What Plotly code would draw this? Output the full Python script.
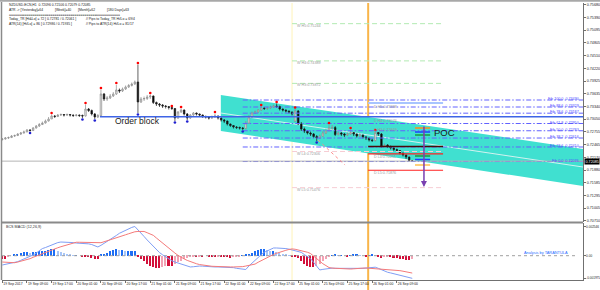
import plotly.graph_objects as go

# ---------------- data ----------------
bar_idx = list(range(134))   # H1 bars, 19 Sep 01:00 ... 26 Sep 14:00 (weekend skipped)

opens = [0.72581, 0.72593, 0.72616, 0.72627, 0.72662, 0.72673, 0.72708, 0.72731, 0.72754, 0.72800,
         0.72788, 0.72846, 0.72892, 0.72926, 0.72961, 0.73007, 0.73053, 0.73122, 0.73110, 0.73145,
         0.73156, 0.73145, 0.73156, 0.73145, 0.73133, 0.73145, 0.73133, 0.73122, 0.73283, 0.73248,
         0.73168, 0.73099, 0.73133, 0.73628, 0.73513, 0.73536, 0.73582, 0.73628, 0.73720, 0.73697,
         0.73743, 0.73789, 0.73823, 0.73858, 0.73904, 0.73444, 0.73513, 0.73524, 0.73559, 0.73582,
         0.73432, 0.73398, 0.73375, 0.73352, 0.73340, 0.73317, 0.73294, 0.73076, 0.73214, 0.73260,
         0.73168, 0.73076, 0.73145, 0.73191, 0.73168, 0.73145, 0.73110, 0.73099, 0.73076, 0.73099,
         0.73122, 0.73076, 0.73030, 0.73007, 0.72938, 0.72903, 0.72869, 0.72857, 0.72846, 0.72834,
         0.72961, 0.73099, 0.73191, 0.73214, 0.73260, 0.73306, 0.73294, 0.73306, 0.73329, 0.73352,
         0.73340, 0.73283, 0.73260, 0.73237, 0.73214, 0.73007, 0.73237, 0.72938, 0.72823, 0.72777,
         0.72731, 0.72708, 0.72650, 0.72616, 0.72662, 0.72731, 0.72777, 0.72846, 0.72857, 0.72696,
         0.72731, 0.72708, 0.72685, 0.72708, 0.72742, 0.72708, 0.72662, 0.72685, 0.72639, 0.72616,
         0.72570, 0.72558, 0.72742, 0.72708, 0.72421, 0.72455, 0.72421, 0.72386, 0.72352, 0.72329,
         0.72271, 0.72225, 0.72179, 0.72096]
highs = [0.72616, 0.72639, 0.72650, 0.72685, 0.72696, 0.72731, 0.72754, 0.72788, 0.72823, 0.72823,
         0.72869, 0.72915, 0.72961, 0.72995, 0.73041, 0.73099, 0.73156, 0.73145, 0.73168, 0.73179,
         0.73168, 0.73179, 0.73168, 0.73156, 0.73168, 0.73156, 0.73156, 0.73386, 0.73306, 0.73271,
         0.73191, 0.73168, 0.73731, 0.73651, 0.73582, 0.73628, 0.73674, 0.73835, 0.73754, 0.73777,
         0.73823, 0.73858, 0.73892, 0.73938, 0.74306, 0.73559, 0.73570, 0.73605, 0.73616, 0.73593,
         0.73455, 0.73421, 0.73398, 0.73375, 0.73352, 0.73329, 0.73306, 0.73237, 0.73294, 0.73271,
         0.73191, 0.73168, 0.73214, 0.73202, 0.73179, 0.73156, 0.73133, 0.73110, 0.73133, 0.73179,
         0.73133, 0.73087, 0.73053, 0.73018, 0.72949, 0.72915, 0.72892, 0.72880, 0.72869, 0.73007,
         0.73145, 0.73225, 0.73248, 0.73283, 0.73340, 0.73329, 0.73340, 0.73363, 0.73386, 0.73409,
         0.73363, 0.73294, 0.73271, 0.73248, 0.73225, 0.73283, 0.73260, 0.72984, 0.72857, 0.72800,
         0.72765, 0.72731, 0.72685, 0.72696, 0.72777, 0.72834, 0.72926, 0.72915, 0.72892, 0.72765,
         0.72754, 0.72731, 0.72742, 0.72811, 0.72754, 0.72719, 0.72731, 0.72696, 0.72662, 0.72627,
         0.72604, 0.72765, 0.72754, 0.72731, 0.72490, 0.72478, 0.72444, 0.72409, 0.72375, 0.72340,
         0.72283, 0.72237, 0.72191, 0.72106]
lows = [0.72558, 0.72581, 0.72593, 0.72616, 0.72639, 0.72662, 0.72685, 0.72719, 0.72754, 0.72765,
        0.72777, 0.72834, 0.72869, 0.72915, 0.72949, 0.72995, 0.73053, 0.73076, 0.73099, 0.73122,
        0.73110, 0.73122, 0.73110, 0.73099, 0.73110, 0.73099, 0.73076, 0.73110, 0.73214, 0.73133,
        0.73053, 0.73076, 0.73110, 0.73467, 0.73467, 0.73513, 0.73559, 0.73605, 0.73651, 0.73674,
        0.73720, 0.73766, 0.73800, 0.73835, 0.73191, 0.73421, 0.73467, 0.73490, 0.73513, 0.73398,
        0.73352, 0.73329, 0.73306, 0.73294, 0.73271, 0.73260, 0.73007, 0.73053, 0.73191, 0.73133,
        0.73030, 0.73053, 0.73122, 0.73133, 0.73110, 0.73076, 0.73064, 0.73041, 0.73053, 0.73076,
        0.73041, 0.72995, 0.72961, 0.72903, 0.72869, 0.72834, 0.72823, 0.72811, 0.72800, 0.72811,
        0.72938, 0.73076, 0.73168, 0.73191, 0.73237, 0.73260, 0.73260, 0.73283, 0.73306, 0.73306,
        0.73248, 0.73225, 0.73202, 0.73179, 0.73133, 0.72984, 0.72915, 0.72777, 0.72731, 0.72696,
        0.72662, 0.72616, 0.72547, 0.72593, 0.72639, 0.72708, 0.72777, 0.72800, 0.72662, 0.72673,
        0.72662, 0.72639, 0.72662, 0.72685, 0.72662, 0.72627, 0.72639, 0.72604, 0.72570, 0.72535,
        0.72524, 0.72535, 0.72662, 0.72398, 0.72409, 0.72386, 0.72352, 0.72318, 0.72295, 0.72237,
        0.72191, 0.72133, 0.72076, 0.72079]
closes = [0.72593, 0.72616, 0.72627, 0.72662, 0.72673, 0.72708, 0.72731, 0.72754, 0.72800, 0.72788,
          0.72846, 0.72892, 0.72926, 0.72961, 0.73007, 0.73053, 0.73122, 0.73110, 0.73145, 0.73156,
          0.73145, 0.73156, 0.73145, 0.73133, 0.73145, 0.73133, 0.73122, 0.73283, 0.73248, 0.73168,
          0.73099, 0.73133, 0.73628, 0.73513, 0.73536, 0.73582, 0.73628, 0.73720, 0.73697, 0.73743,
          0.73789, 0.73823, 0.73858, 0.73904, 0.73444, 0.73513, 0.73524, 0.73559, 0.73582, 0.73432,
          0.73398, 0.73375, 0.73352, 0.73340, 0.73317, 0.73294, 0.73076, 0.73214, 0.73260, 0.73168,
          0.73076, 0.73145, 0.73191, 0.73168, 0.73145, 0.73110, 0.73099, 0.73076, 0.73099, 0.73122,
          0.73076, 0.73030, 0.73007, 0.72938, 0.72903, 0.72869, 0.72857, 0.72846, 0.72834, 0.72961,
          0.73099, 0.73191, 0.73214, 0.73260, 0.73306, 0.73294, 0.73306, 0.73329, 0.73352, 0.73340,
          0.73283, 0.73260, 0.73237, 0.73214, 0.73168, 0.73237, 0.72938, 0.72823, 0.72777, 0.72731,
          0.72708, 0.72650, 0.72616, 0.72662, 0.72731, 0.72777, 0.72846, 0.72857, 0.72696, 0.72731,
          0.72708, 0.72685, 0.72708, 0.72742, 0.72708, 0.72662, 0.72685, 0.72639, 0.72616, 0.72570,
          0.72558, 0.72742, 0.72708, 0.72421, 0.72455, 0.72421, 0.72386, 0.72352, 0.72329, 0.72271,
          0.72225, 0.72179, 0.72096, 0.72085]

time_tick_idx = [0, 8, 16, 24, 32, 40, 48, 56, 64, 72, 80, 88, 96, 104, 112, 120, 128]
time_tick_text = ["19 Sep 2017", "19 Sep 09:00", "19 Sep 17:00", "20 Sep 01:00", "20 Sep 09:00",
                  "20 Sep 17:00", "21 Sep 01:00", "21 Sep 09:00", "21 Sep 17:00", "22 Sep 01:00",
                  "22 Sep 09:00", "22 Sep 17:00", "25 Sep 01:00", "25 Sep 09:00", "25 Sep 17:00",
                  "26 Sep 01:00", "26 Sep 09:00"]

price_ticks = [0.75680, 0.75390, 0.75095, 0.74805, 0.74510, 0.74220, 0.73925, 0.73635, 0.73340,
               0.73050, 0.72755, 0.72465, 0.72170, 0.71880, 0.71585, 0.71295, 0.71005, 0.70710]
price_tick_text = ["0.75680", "0.75390", "0.75095", "0.74805", "0.74510", "0.74220", "0.73925",
                   "0.73635", "0.73340", "0.73050", "0.72755", "0.72465", "0.72170", "0.71880",
                   "0.71585", "0.71295", "0.71005", "0.70710"]

# BCS MACD (12,26,9), values in units of 1e-5
macd_e5 = [-81, -76, -70, -65, -59, -52, -40, -29, -17, -5,
           6, 23, 43, 62, 71, 83, 93, 104, 114, 119,
           119, 119, 117, 114, 110, 109, 107, 105, 103, 97,
           86, 76, 90, 106, 122, 137, 157, 176, 195, 209,
           222, 235, 246, 254, 227, 197, 167, 137, 108, 81,
           54, 27, 8, -11, -30, -44, -55, -65, -75, -84,
           -91, -98, -96, -92, -90, -91, -94, -96, -98, -98,
           -98, -98, -98, -98, -99, -104, -110, -115, -120, -120,
           -90, -63, -40, -16, 9, 30, 43, 56, 67, 67,
           67, 67, 62, 57, 51, 44, 37, 29, 10, -7,
           -26, -58, -91, -124, -119, -114, -109, -108, -110, -110,
           -112, -113, -115, -116, -114, -112, -110, -110, -108, -105,
           -102, -100, -110, -122, -133, -144, -150, -156, -162, -168,
           -175, -181, -188, -197]
signal_e5 = [-55, -57, -60, -63, -61, -55, -49, -44, -37, -26,
             -14, -3, 10, 21, 31, 41, 50, 59, 69, 78,
             86, 94, 102, 110, 117, 117, 116, 113, 111, 110,
             110, 110, 113, 121, 129, 137, 144, 152, 162, 171,
             182, 191, 202, 208, 211, 213, 211, 200, 190, 177,
             154, 131, 109, 85, 64, 44, 23, 3, -16, -28,
             -41, -53, -64, -70, -77, -82, -88, -90, -92, -93,
             -95, -96, -97, -98, -98, -98, -98, -98, -95, -90,
             -86, -83, -73, -57, -43, -27, -10, 1, 11, 21,
             31, 39, 47, 54, 59, 56, 51, 46, 38, 30,
             19, -5, -30, -54, -70, -86, -103, -108, -110, -110,
             -112, -113, -115, -116, -114, -110, -109, -108, -107, -109,
             -110, -112, -115, -117, -118, -119, -121, -123, -124, -130,
             -135, -140, -145, -151]
hist_e5 = [-26, -26, -9, 0, 9, 17, 26, 35, 35, 26,
           35, 35, 44, 44, 44, 52, 61, 61, 44, 35,
           26, 17, 9, 4, 4, 0, -9, -9, -9, -17,
           -26, -26, 9, 17, 26, 44, 52, 61, 52, 52,
           44, 44, 44, 44, -9, -26, -44, -70, -87, -96,
           -104, -104, -96, -87, -87, -87, -70, -52, -44, -26,
           -17, -9, -4, -9, -4, -4, 0, -4, -9, -9,
           -4, -9, -13, -13, -17, -13, -9, -4, 4, 9,
           17, 26, 44, 52, 61, 61, 52, 44, 44, 35,
           26, 17, 9, 4, -9, -13, -17, -44, -70, -87,
           -96, -96, -87, -70, -44, -26, -9, 4, 9, 4,
           4, 0, -4, 4, 9, 9, 4, 0, -4, 4,
           9, 4, -9, -17, -13, -9, -13, -17, -17, -26,
           -30, -35, -35, -30]
macd_ticks = [0.002546, 0.0, -0.001975]
macd_tick_text = ["0.002546", "0.00", "-0.001975"]

fractal_up_idx = [16, 27, 32, 37, 44, 48, 55, 58, 69, 84, 89, 95, 106, 113, 121]
fractal_up_price = [0.73191, 0.73421, 0.73766, 0.73881, 0.74340, 0.73651, 0.73352, 0.73329,
                    0.73214, 0.73375, 0.73444, 0.73317, 0.72961, 0.72846, 0.72800]
fractal_dn_idx = [9, 26, 30, 44, 56, 60, 78, 102]
fractal_dn_price = [0.72731, 0.73041, 0.73018, 0.73156, 0.72972, 0.72995, 0.72765, 0.72512]

order_block_price = 0.73105
week_names = ["W H5", "W H4", "W H3", "W L4", "W L5"]
week_levels = [0.75244, 0.74389, 0.73872, 0.72306, 0.71476]
day_names = ["D H5", "D H4", "D H3", "D L4", "D L5"]
day_levels = [0.73398, 0.73076, 0.72869, 0.72251, 0.71876]
fib_names = ["100.0", "88.6", "78.6", "61.8", "50.0", "38.2", "23.6", "0.0"]
fib_prices = [0.73490, 0.73329, 0.73187, 0.72950, 0.72783, 0.72616, 0.72410, 0.72076]
channel_idx = [70.9, 188.4]
channel_top = [0.73605, 0.72364]
channel_bottom = [0.72777, 0.71514]
channel_mid = [0.73191, 0.71950]
poc_top, poc_bottom = 0.72915, 0.71490
profile_prices = [0.72846, 0.72754, 0.72685, 0.72202, 0.72122, 0.71996]
profile_colors = ["#ff8c1a", "#1f3fff", "#1a9a3a", "#1a9a3a", "#1f3fff", "#ffc04d"]
yesterday_low = 0.72421
day_high_band = 0.73421
diag_idx = [102.4, 111.2]
diag_price = [0.72570, 0.71996]

# ---------------- layout constants (positions) ----------------
X0, X1 = -0.1, 188.4
WEEK_START, DAY_START, LEVEL_END = 94.0, 118.7, 143.0
OB_START, FIB_START = 31.7, 78.0
POC_IDX = 136.8
FONT = "Liberation Sans"
SM = 3.7


def PX(x):
    return (x - 2) / 581.0


def PY(y):
    return (280 - y) / 277.0


fig = go.Figure()


def seg(x0, x1, y0, y1, color, width=1.0, dash="solid", yaxis="y"):
    fig.add_trace(go.Scatter(x=[x0, x1], y=[y0, y1], mode="lines", yaxis=yaxis,
                             line=dict(color=color, width=width, dash=dash), hoverinfo="skip"))


shapes = []
# channel (drawn as shapes below the traces so the candles stay visible)
shapes.append(dict(type="path", xref="x", yref="y", layer="below",
                   path=(f"M {channel_idx[0]},{channel_top[0]} L {channel_idx[1]},{channel_top[1]} "
                         f"L {channel_idx[1]},{channel_bottom[1]} L {channel_idx[0]},{channel_bottom[0]} Z"),
                   fillcolor="#40E0D0", line=dict(width=0)))
shapes.append(dict(type="line", xref="x", yref="y", layer="below",
                   x0=channel_idx[0], x1=channel_idx[1], y0=channel_mid[0], y1=channel_mid[1],
                   line=dict(color="rgba(235,245,245,0.85)", width=1)))
shapes.append(dict(type="line", xref="x", yref="paper", layer="below", x0=WEEK_START, x1=WEEK_START,
                   y0=0, y1=1, line=dict(color="#fff3b8", width=1)))
shapes.append(dict(type="line", xref="x", yref="paper", layer="below", x0=DAY_START, x1=DAY_START,
                   y0=PY(290), y1=PY(3), line=dict(color="#f9b54a", width=2)))

# weekly pivots
for name, lv in zip(week_names, week_levels):
    col = "#b2eab2" if "H" in name else "#f6cdd4"
    seg(WEEK_START, LEVEL_END, lv, lv, col, 1, "5px,3px")
    fig.add_annotation(x=WEEK_START + 1, y=lv, xref="x", yref="y", text=f"{name}:{lv:.5f}",
                       showarrow=False, xanchor="left", yanchor="middle", yshift=-2,
                       font=dict(family=FONT, size=SM, color="#9a9a9a"))

# fib lines
for nm, fp in zip(fib_names, fib_prices):
    seg(FIB_START, X1, fp, fp, "#6262ff", 1, "5px,2px,1.5px,2px")
    fig.add_annotation(x=187.9, y=fp, xref="x", yref="y", text=f"Fib {nm}  {fp:.5f}",
                       showarrow=False, xanchor="right", yanchor="middle", yshift=1,
                       font=dict(family=FONT, size=SM, color="#4a4aff"))

# order block + current price line
seg(OB_START, X1, order_block_price, order_block_price, "#3f64e6", 1.5)
seg(X0, X1, closes[-1], closes[-1], "#b4b4b4", 1)

# daily levels
seg(DAY_START, LEVEL_END, day_high_band, day_high_band, "#a8c4ff", 2)
seg(DAY_START, LEVEL_END, yesterday_low, yesterday_low, "#4a0808", 1.5)
seg(DAY_START, LEVEL_END, day_levels[3], day_levels[3], "#ff2020", 1.2)
seg(DAY_START, LEVEL_END, day_levels[4], day_levels[4], "#ff2020", 1.2)
for name, lv in zip(day_names, day_levels):
    fig.add_annotation(x=DAY_START + 1.2, y=lv, xref="x", yref="y", text=f"{name}:{lv:.5f}",
                       showarrow=False, xanchor="left", yanchor="middle", yshift=-3,
                       font=dict(family=FONT, size=SM, color="#9a9a9a"))
for pp, pc in zip(profile_prices, profile_colors):
    seg(133.9, 138.8, pp, pp, pc, 1.5)
seg(diag_idx[0], diag_idx[1], diag_price[0], diag_price[1], "#ff8a8a", 1, "dot")

# candles
fig.add_trace(go.Candlestick(x=bar_idx, open=opens, high=highs, low=lows, close=closes,
                             increasing=dict(line=dict(color="#8c8c8c", width=0.7), fillcolor="#ececec"),
                             decreasing=dict(line=dict(color="#1e1e1e", width=0.7), fillcolor="#000000"),
                             whiskerwidth=0, hoverinfo="skip"))
fig.add_trace(go.Scatter(x=fractal_up_idx, y=fractal_up_price, mode="markers",
                         marker=dict(color="#ff0000", size=2.6), hoverinfo="skip"))
fig.add_trace(go.Scatter(x=fractal_dn_idx, y=fractal_dn_price, mode="markers",
                         marker=dict(color="#2020d0", size=2.6), hoverinfo="skip"))

# MACD pane
macd = [v * 1e-5 for v in macd_e5]
signal = [v * 1e-5 for v in signal_e5]
hist = [v * 1e-5 for v in hist_e5]
hist_colors = []
for i, v in enumerate(hist_e5):
    prev = hist_e5[i - 1] if i > 0 else 0
    if v >= 0:
        hist_colors.append("#1e6ef5" if v >= prev else "#a8c6f7")
    else:
        hist_colors.append("#d3103a" if v <= prev else "#f3a3b5")
seg(X0, 186.5, 0, 0, "#a0a0a0", 1, "dot", yaxis="y2")
fig.add_trace(go.Bar(x=bar_idx, y=hist, marker=dict(color=hist_colors, line=dict(width=0)),
                     width=0.5, yaxis="y2", hoverinfo="skip"))
fig.add_trace(go.Scatter(x=bar_idx, y=macd, mode="lines", yaxis="y2",
                         line=dict(color="#7f9ef5", width=1), hoverinfo="skip"))
fig.add_trace(go.Scatter(x=bar_idx, y=signal, mode="lines", yaxis="y2",
                         line=dict(color="#f47a7a", width=1), hoverinfo="skip"))

# annotations
fig.add_annotation(x=POC_IDX, y=poc_bottom, ax=POC_IDX, ay=poc_top, xref="x", yref="y",
                   axref="x", ayref="y", text="", showarrow=True, arrowhead=2, arrowsize=0.8,
                   arrowwidth=1.5, arrowcolor="#7a3fb0")
fig.add_annotation(x=139.4, y=0.72754, xref="x", yref="y", text="POC", showarrow=False,
                   xanchor="left", yanchor="middle", font=dict(family=FONT, size=9.5, color="#1a1a1a"))
fig.add_annotation(x=35.9, y=0.73007, xref="x", yref="y", text="Order block", showarrow=False,
                   xanchor="left", yanchor="middle", font=dict(family=FONT, size=8.5, color="#202020"))
fig.add_annotation(x=1, y=closes[-1], xref="paper", yref="y", text=f"{closes[-1]:.5f}",
                   showarrow=False, xanchor="left", yanchor="middle", xshift=1, bgcolor="#000000",
                   borderpad=0.5, font=dict(family=FONT, size=SM, color="#ffffff"))
fig.add_annotation(x=168.6, y=0.00024, xref="x", yref="y2", text="Analysis by TARANTULA",
                   showarrow=False, xanchor="left", yanchor="middle",
                   font=dict(family=FONT, size=3.9, color="#2a6cff"))
fig.add_annotation(x=PX(4), y=PY(227), xref="paper", yref="paper", text="BCS MACD (12,26,9)",
                   showarrow=False, xanchor="left", yanchor="middle",
                   font=dict(family=FONT, size=SM, color="#303030"))

header = [
    (7, 5, "NZDUSD-ECN,H1  0.72096 0.72106 0.72079 0.72085"),
    (7, 10, "ATR -> [Yesterday]=64"),
    (53, 10, "[Week]=40"),
    (76, 10, "[Month]=62"),
    (105, 10, "[180 Days]=63"),
    (7, 15, "=" * 56),
    (7, 19.5, "Today_TR [Hi&Lo] = 72 [ 0.72781 / 0.72061 ]"),
    (84, 19.5, "// Pips to Today_TR Hi/Lo = 69/4"),
    (7, 24, "ATR(14) [Hi/Lo] = 86 [ 0.72986 / 0.71935 ]"),
    (84, 24, "// Pips to ATR(14) Hi/Lo = 81/17"),
]
for hx, hy, ht in header:
    fig.add_annotation(x=PX(hx), y=PY(hy), xref="paper", yref="paper", text=ht, showarrow=False,
                       xanchor="left", yanchor="middle",
                       font=dict(family=FONT, size=3.4, color="#202020"))

shapes += [
    dict(type="line", xref="paper", yref="paper", x0=0, x1=1, y0=PY(222.6), y1=PY(222.6),
         line=dict(color="#8a8a8a", width=2)),
    dict(type="rect", xref="paper", yref="paper", x0=PX(0), x1=PX(600), y0=PY(1.8), y1=PY(0),
         line=dict(width=0), fillcolor="#a8a8a8"),
    dict(type="line", xref="paper", yref="paper", x0=PX(1.5), x1=PX(1.5), y0=PY(280), y1=PY(2),
         line=dict(color="#8a8a8a", width=1.5)),
]

axis_font = dict(family=FONT, size=SM, color="#202020")
fig.update_layout(
    width=600, height=290, margin=dict(l=2, r=17, t=3, b=10),
    paper_bgcolor="white", plot_bgcolor="white", showlegend=False, shapes=shapes,
    xaxis=dict(domain=[0, 1], anchor="y2", range=[X0, X1], tickmode="array",
               tickvals=time_tick_idx, ticktext=time_tick_text, ticks="outside", ticklen=2,
               tickangle=0, tickcolor="#707070", tickfont=dict(family=FONT, size=3.4, color="#202020"),
               ticklabelposition="outside right", showline=True, linecolor="#707070",
               showgrid=False, zeroline=False, rangeslider=dict(visible=False), automargin=False),
    yaxis=dict(domain=[0.2076, 1], anchor="x", side="right", range=[0.70675, 0.75719],
               tickmode="array", tickvals=price_ticks, ticktext=price_tick_text, ticks="outside",
               ticklen=2, tickcolor="#707070", tickfont=axis_font, showline=True,
               linecolor="#707070", showgrid=False, zeroline=False, automargin=False),
    yaxis2=dict(domain=[0, 0.2058], anchor="x", side="right", range=[-0.002114, 0.002845],
                tickmode="array", tickvals=macd_ticks, ticktext=macd_tick_text, ticks="outside",
                ticklen=1.5, tickcolor="#707070", tickfont=dict(family=FONT, size=3.1, color="#202020"),
                showline=True, linecolor="#707070", showgrid=False, zeroline=False, automargin=False),
    bargap=0,
)

fig.write_html("out.html")
